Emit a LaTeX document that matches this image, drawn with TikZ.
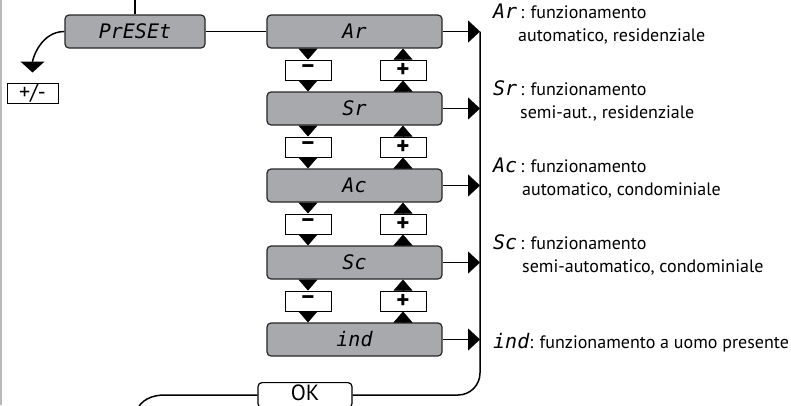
\documentclass[tikz,border=0pt]{standalone}
\usepackage{fontspec}
\setmainfont{PT Sans}
\newfontfamily\lcdfont{DejaVu Sans Mono}
\usetikzlibrary{arrows.meta}
\definecolor{lcdgray}{RGB}{167,169,172}
\newcommand{\lcd}[1]{{\lcdfont\itshape\fontsize{20}{20}\selectfont #1}}
\tikzstyle{lcdbox} = [draw=black!85, fill=lcdgray, line width=1.2pt,
rectangle, rounded corners=4pt, minimum width=175pt, minimum height=33pt, inner sep=0pt]
\tikzstyle{keybox} = [draw=black, fill=white, line width=1pt, rectangle,
minimum width=46pt, minimum height=20pt, inner sep=0pt, font={\fontsize{25}{25}\selectfont\bfseries}]
\tikzstyle{tri} = [-{Triangle[length=11pt,width=19pt]}, line width=0.5pt]
\tikzstyle{rowarrow} = [-{Triangle[length=12pt,width=22pt]}, line width=1.5pt]
\tikzstyle{link} = [line width=1.5pt]
\tikzstyle{descr} = [anchor=base west, align=left, inner sep=0pt, font={\fontsize{18}{23}\selectfont}]

\begin{document}
\begin{tikzpicture}[x=1pt,y=-1pt]
    \clip (0,0) rectangle (791,405);
    \draw[gray!55, line width=1.5pt] (1,0) -- (1,405);
    % display states
    \node[lcdbox, minimum width=140pt] (preset) at (135,31.5) {\lcd{PrESEt}};
    \node[lcdbox] (ar) at (354.5,31.5) {\lcd{Ar}};
    \node[lcdbox] (sr) at (354.5,108.5) {\lcd{Sr}};
    \node[lcdbox] (ac) at (354.5,185.5) {\lcd{Ac}};
    \node[lcdbox] (sc) at (354.5,262.5) {\lcd{Sc}};
    \node[lcdbox] (ind) at (354.5,339.5) {\lcd{ind}};
    % keys
    \node[keybox] (m1) at (308,70) {−};
    \node[keybox] (m2) at (308,147) {−};
    \node[keybox] (m3) at (308,224) {−};
    \node[keybox] (m4) at (308,301) {−};
    \node[keybox] (p1) at (403,70) {+};
    \node[keybox] (p2) at (403,147) {+};
    \node[keybox] (p3) at (403,224) {+};
    \node[keybox] (p4) at (403,301) {+};
    \node[keybox, minimum width=51pt, font={\fontsize{22}{22}\selectfont}] (pm) at (32.5,93) {+/-};
    \node[draw, fill=white, line width=1.2pt, rounded corners=4pt, minimum width=94pt,
      minimum height=25pt, inner sep=0pt, text height=16pt, text depth=6pt,
      font={\fontsize{22}{22}\selectfont}, anchor=north] (ok) at (305,382) {OK};
    \coordinate (top) at (135,0);
    \coordinate (rtop) at (480,31.5);
    \coordinate (rbot) at (480,395);
    \coordinate (lend) at (136,412);
    % descriptions
    \node[descr] (dar) at (493,41) {\lcd{Ar}\,: funzionamento\\\hspace*{25pt}automatico, residenziale};
    \node[descr] (dsr) at (493,118) {\lcd{Sr}\,: funzionamento\\\hspace*{27pt}semi-aut., residenziale};
    \node[descr] (dac) at (493,195) {\lcd{Ac}\,: funzionamento\\\hspace*{29pt}automatico, condominiale};
    \node[descr] (dsc) at (493,272) {\lcd{Sc}\,: funzionamento\\\hspace*{29pt}semi-automatico, condominiale};
    \node[descr] (dind) at (493,348) {\lcd{ind}: funzionamento a uomo presente};
    % connections
    \draw[link] (preset.north) -- (top);
    \draw[link] (preset.east) -- (ar.west);
    \draw[link, -{Triangle[length=11pt,width=24pt]}, shorten >=10pt] (preset.west) to[out=180,in=90] (pm.north);
    \foreach \r in {ar,sr,ac,sc,ind}
      \draw[rowarrow] (\r.east) -- (\r.east -| rtop);
    \foreach \a/\m/\p/\b in {ar/m1/p1/sr, sr/m2/p2/ac, ac/m3/p3/sc, sc/m4/p4/ind} {
      \draw[tri] (\m.north |- \a.south) -- (\m.north);
      \draw[tri] (\m.south) -- (\m.south |- \b.north);
      \draw[tri] (\p.south |- \b.north) -- (\p.south);
      \draw[tri] (\p.north) -- (\p.north |- \a.south);
    }
    \draw[link, rounded corners=22pt] (rtop) -- (rbot) -- (ok.east |- rbot);
    \draw[link] (ok.west |- rbot) -- (165,395) to[out=180,in=70] (lend);
\end{tikzpicture}
\end{document}
